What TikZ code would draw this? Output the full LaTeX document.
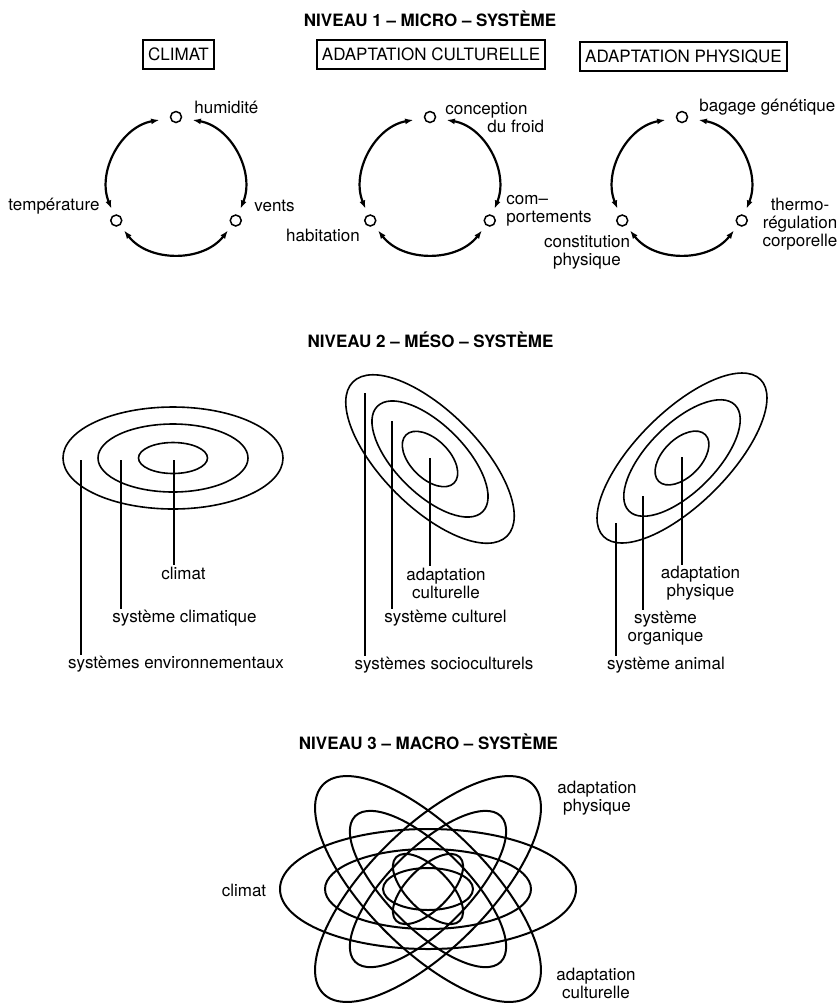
\documentclass[tikz,border=0pt]{standalone}
\usepackage{fontspec}
\setmainfont{TeX Gyre Heros}
\usetikzlibrary{arrows.meta,positioning}

\tikzset{
  etat/.style={circle, draw, line width=0.75pt, inner sep=0pt, minimum size=5.5pt},
  sommet/.style={etat, outer sep=5.65pt},
  cote/.style={etat, outer sep=3.55pt},
  boucle/.style={line width=1.1pt, {Latex[length=4.2pt,width=3pt]}-{Latex[length=4.2pt,width=3pt]}},
  haut/.style={out=-10, in=68, looseness=1},
  bas/.style={out=232, in=308, looseness=1},
  retour/.style={out=112, in=190, looseness=1},
  cadre/.style={draw, line width=0.9pt, inner xsep=2.5pt, minimum height=14.5pt},
  titre/.style={font=\fontsize{8.5}{9}\selectfont\bfseries},
  etiq/.style={align=center, inner sep=0.5pt},
  orbite/.style={line width=0.8pt},
  renvoi/.style={line width=0.8pt}
}

\begin{document}
\begin{tikzpicture}[x=0.5pt, y=0.5pt, font=\fontsize{8.5}{9}\selectfont]
  \useasboundingbox (0,0) rectangle (840,-1003);

  \node[titre] (niv1) at (430,-19) {NIVEAU 1 -- MICRO -- SYSTÈME};
  \node[cadre] (bclimat) at (178.5,-54.5) {CLIMAT};
  \node[cadre] (bculture) at (431,-54.5) {ADAPTATION CULTURELLE};
  \node[cadre] (bphys) at (683.5,-56.5) {ADAPTATION PHYSIQUE};

  \coordinate (c1) at (176,-186);
  \node[sommet] (hum) at ([shift={(90:69)}]c1) {};
  \node[cote] (temp) at ([shift={(210:69)}]c1) {};
  \node[cote] (vent) at ([shift={(330:69)}]c1) {};
  \draw[boucle] (hum) to[haut] (vent);
  \draw[boucle] (vent) to[bas] (temp);
  \draw[boucle] (temp) to[retour] (hum);
  \node[etiq, anchor=west] (lhum) at (193,-107) {humidité};
  \node[etiq, anchor=east] (ltemp) at (101,-206) {température};
  \node[etiq, anchor=west] (lvent) at (253,-206) {vents};

  \coordinate (c2) at (430,-186);
  \node[sommet] (froid) at ([shift={(90:69)}]c2) {};
  \node[cote] (habit) at ([shift={(210:69)}]c2) {};
  \node[cote] (compo) at ([shift={(330:69)}]c2) {};
  \draw[boucle] (froid) to[haut] (compo);
  \draw[boucle] (compo) to[bas] (habit);
  \draw[boucle] (habit) to[retour] (froid);
  \node[etiq, align=left, anchor=west] (lfroid) at (444,-117.5) {conception\\\hspace*{21pt}du froid};
  \node[etiq, align=left, anchor=west] (lcompo) at (505,-211) {com--\\portements};
  \node[etiq] (lhabit) at (323,-235) {habitation};

  \coordinate (c3) at (682,-186);
  \node[sommet] (genet) at ([shift={(90:69)}]c3) {};
  \node[cote] (const) at ([shift={(210:69)}]c3) {};
  \node[cote] (thermo) at ([shift={(330:69)}]c3) {};
  \draw[boucle] (genet) to[haut] (thermo);
  \draw[boucle] (thermo) to[bas] (const);
  \draw[boucle] (const) to[retour] (genet);
  \node[etiq, anchor=west] (lgenet) at (698,-107) {bagage génétique};
  \node[etiq] (lthermo) at (800,-224.5) {thermo-\\régulation\\corporelle};
  \node[etiq] (lconst) at (587,-252.5) {constitution\\physique};

  \node[titre] (niv2) at (430.5,-340) {NIVEAU 2 -- MÉSO -- SYSTÈME};

  \coordinate (cclim) at (173,-458);
  \draw[orbite] (cclim) ellipse [x radius=110, y radius=51];
  \draw[orbite] (cclim) ellipse [x radius=75, y radius=34];
  \draw[orbite] (cclim) ellipse [x radius=34.5, y radius=15.5];
  \node[etiq] (lclim) at (183.5,-573) {climat};
  \node[etiq] (lsclim) at (184.5,-618) {système climatique};
  \node[etiq] (lenv) at (176,-664) {systèmes environnementaux};
  \coordinate (p1) at (81,-460);
  \coordinate (p2) at (121,-460);
  \coordinate (p3) at (174,-460);
  \draw[renvoi] (p1) -- (p1 |- lenv.north);
  \draw[renvoi] (p2) -- (p2 |- lsclim.north);
  \draw[renvoi] (p3) -- (p3 |- lclim.north);

  \coordinate (ccult) at (430,-459);
  \draw[orbite, rotate around={-45:(ccult)}] (ccult) ellipse [x radius=109, y radius=48];
  \draw[orbite, rotate around={-45:(ccult)}] (ccult) ellipse [x radius=74.5, y radius=34.5];
  \draw[orbite, rotate around={-45:(ccult)}] (ccult) ellipse [x radius=34, y radius=19.5];
  \node[etiq] (lacult) at (446,-583) {adaptation\\culturelle};
  \node[etiq] (lscult) at (445.5,-618) {système culturel};
  \node[etiq] (lsocio) at (444,-665) {systèmes socioculturels};
  \coordinate (q1) at (365,-393);
  \coordinate (q2) at (392,-421);
  \coordinate (q3) at (430,-458);
  \draw[renvoi] (q1) -- (q1 |- lsocio.north);
  \draw[renvoi] (q2) -- (q2 |- lscult.north);
  \draw[renvoi] (q3) -- (q3 |- lacult.north);

  \coordinate (cphys) at (682,-458);
  \draw[orbite, rotate around={45:(cphys)}] (cphys) ellipse [x radius=111, y radius=46];
  \draw[orbite, rotate around={45:(cphys)}] (cphys) ellipse [x radius=75, y radius=34];
  \draw[orbite, rotate around={45:(cphys)}] (cphys) ellipse [x radius=33, y radius=19];
  \node[etiq] (laphys) at (700.5,-583) {adaptation\\physique};
  \node[etiq] (lorga) at (665.5,-628) {système\\organique};
  \node[etiq] (lanim) at (666,-665) {système animal};
  \coordinate (r1) at (616,-523);
  \coordinate (r2) at (643,-496);
  \coordinate (r3) at (682,-457);
  \draw[renvoi] (r1) -- (r1 |- lanim.north);
  \draw[renvoi] (r2) -- (r2 |- lorga.north);
  \draw[renvoi] (r3) -- (r3 |- laphys.north);

  \node[titre] (niv3) at (428.5,-742) {NIVEAU 3 -- MACRO -- SYSTÈME};
  \coordinate (cmacro) at (428,-889);
  \foreach \ang in {0,45,-45}
    \foreach \ra/\rb in {148/60,103/40,45/21}
      \draw[orbite, line width=1pt, rotate around={\ang:(cmacro)}] (cmacro) ellipse [x radius=\ra, y radius=\rb];
  \node[etiq] (mclim) at (244,-890) {climat};
  \node[etiq] (mphys) at (597,-798.5) {adaptation\\physique};
  \node[etiq] (mcult) at (596,-983) {adaptation\\culturelle};
\end{tikzpicture}
\end{document}
